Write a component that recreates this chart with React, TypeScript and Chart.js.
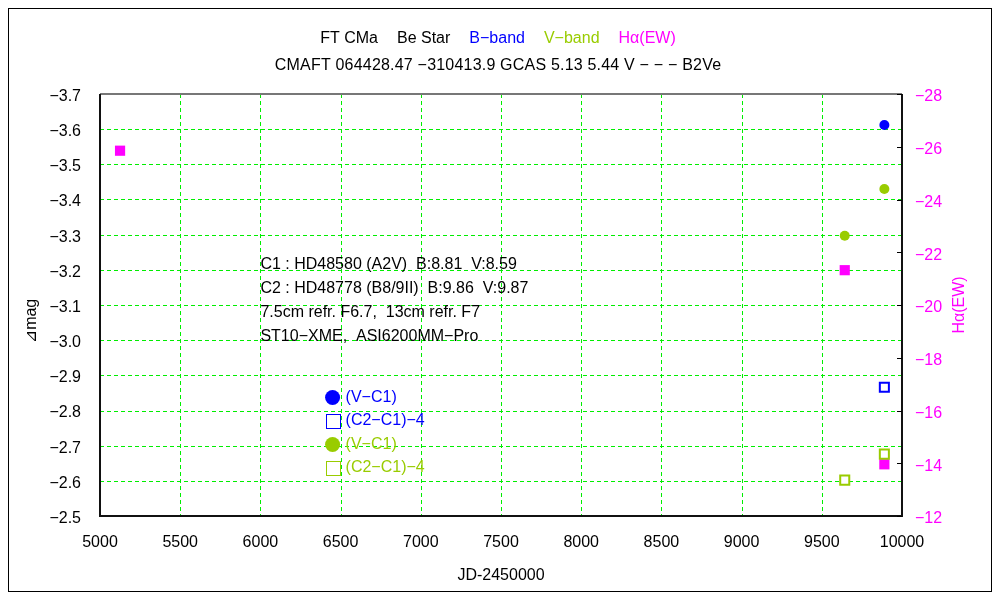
import React, { useEffect, useRef } from "react";
import { Chart, registerables } from "chart.js";

Chart.register(...registerables);

const FONT = "'Liberation Sans', 'DejaVu Sans', sans-serif";
const BLUE = "#0000ff";
const GREEN = "#99cc00";
const MAGENTA = "#ff00ff";
const GRID = "#00ee00";

// B-band
const bJD = [9890];
const bVC1 = [-3.612];
const bC2C1 = [-2.866];
// V-band
const vJD = [9643, 9890];
const vVC1 = [-3.297, -3.43];
const vC2C1 = [-2.602, -2.676];
// H-alpha equivalent width
const haJD = [5125, 9643, 9890];
const haEW = [-25.85, -21.32, -13.96];

const titleSegments = [
  { text: "FT CMa", color: "#000000" },
  { text: "Be Star", color: "#000000" },
  { text: "B−band", color: BLUE },
  { text: "V−band", color: GREEN },
  { text: "Hα(EW)", color: MAGENTA },
];
const subtitle = "CMAFT 064428.47 −310413.9 GCAS 5.13 5.44 V − − − B2Ve";
const notes = [
  "C1 : HD48580 (A2V)  B:8.81  V:8.59",
  "C2 : HD48778 (B8/9II)  B:9.86  V:9.87",
  "7.5cm refr. F6.7,  13cm refr. F7",
  "ST10−XME,  ASI6200MM−Pro",
];
const legendItems = [
  { label: "(V−C1)", color: BLUE, filled: true },
  { label: "(C2−C1)−4", color: BLUE, filled: false },
  { label: "(V−C1)", color: GREEN, filled: true },
  { label: "(C2−C1)−4", color: GREEN, filled: false },
];
const leftTitle = "⊿mag";
const rightTitle = "Hα(EW)";
const xTitle = "JD-2450000";

const pts = (xs: number[], ys: number[]) => xs.map((x, i) => ({ x, y: ys[i] }));
const minusFmt = (v: any) => String(v).replace("-", "−");

const decor = {
  id: "decor",
  beforeDraw(chart: any) {
    const ctx = chart.ctx;
    ctx.save();
    ctx.fillStyle = "#ffffff";
    ctx.fillRect(0, 0, chart.width, chart.height);
    ctx.restore();
  },
  beforeDatasetsDraw(chart: any) {
    const ctx = chart.ctx;
    const ca = chart.chartArea;
    const xs = chart.scales.x;
    const ys = chart.scales.y;
    ctx.save();
    ctx.strokeStyle = GRID;
    ctx.lineWidth = 1;
    ctx.setLineDash([4, 3]);
    xs.ticks.forEach((t: any) => {
      const px = Math.round(xs.getPixelForValue(t.value)) + 0.5;
      if (px <= ca.left + 2 || px >= ca.right - 2) return;
      ctx.beginPath();
      ctx.moveTo(px, ca.top);
      ctx.lineTo(px, ca.bottom);
      ctx.stroke();
    });
    ys.ticks.forEach((t: any) => {
      const py = Math.round(ys.getPixelForValue(t.value)) + 0.5;
      if (py <= ca.top + 2 || py >= ca.bottom - 2) return;
      ctx.beginPath();
      ctx.moveTo(ca.left, py);
      ctx.lineTo(ca.right, py);
      ctx.stroke();
    });
    ctx.restore();
  },
  afterDraw(chart: any) {
    const ctx = chart.ctx;
    const ca = chart.chartArea;
    const xs = chart.scales.x;
    const y2 = chart.scales.y2;
    ctx.save();
    // outer border
    ctx.strokeStyle = "#000000";
    ctx.lineWidth = 1;
    ctx.strokeRect(0.5, 0.5, chart.width - 1, chart.height - 1);

    // plot frame
    ctx.lineWidth = 2;
    ctx.strokeStyle = "#777777";
    ctx.beginPath();
    ctx.moveTo(ca.left, ca.top);
    ctx.lineTo(ca.right, ca.top);
    ctx.stroke();
    ctx.strokeStyle = "#111111";
    ctx.beginPath();
    ctx.moveTo(ca.left, ca.top);
    ctx.lineTo(ca.left, ca.bottom);
    ctx.lineTo(ca.right, ca.bottom);
    ctx.lineTo(ca.right, ca.top);
    ctx.stroke();

    // right axis inward ticks
    ctx.lineWidth = 1;
    ctx.strokeStyle = "#000000";
    y2.ticks.forEach((t: any) => {
      const py = Math.round(y2.getPixelForValue(t.value)) + 0.5;
      ctx.beginPath();
      ctx.moveTo(ca.right - 5, py);
      ctx.lineTo(ca.right, py);
      ctx.stroke();
    });

    // titles
    ctx.font = "16px " + FONT;
    ctx.textBaseline = "middle";
    const gap = 19;
    const widths = titleSegments.map((s) => ctx.measureText(s.text).width);
    const total = widths.reduce((a, b) => a + b, 0) + gap * (titleSegments.length - 1);
    let tx = chart.width / 2 - total / 2 - 2;
    ctx.textAlign = "left";
    titleSegments.forEach((s, i) => {
      ctx.fillStyle = s.color;
      ctx.fillText(s.text, tx, 31);
      tx += widths[i] + gap;
    });
    ctx.fillStyle = "#000000";
    ctx.textAlign = "center";
    (ctx as any).letterSpacing = "0.2px";
    ctx.fillText(subtitle, chart.width / 2 - 2, 58);
    (ctx as any).letterSpacing = "0px";

    // notes
    ctx.textAlign = "left";
    const nx = xs.getPixelForValue(6000);
    notes.forEach((n, i) => {
      ctx.fillText(n, nx, 257 + i * 23.7);
    });

    // legend
    const lx = xs.getPixelForValue(6450);
    legendItems.forEach((it, i) => {
      const ly = 389.5 + i * 23.5;
      if (it.filled) {
        ctx.fillStyle = it.color;
        ctx.beginPath();
        ctx.arc(lx, ly, 7.5, 0, Math.PI * 2);
        ctx.fill();
      } else {
        ctx.strokeStyle = it.color;
        ctx.lineWidth = 1;
        ctx.strokeRect(Math.round(lx - 7) + 0.5, Math.round(ly - 7) + 0.5, 14, 14);
      }
      ctx.fillStyle = it.color;
      ctx.fillText(it.label, lx + 13, ly);
    });

    // axis titles
    ctx.fillStyle = "#000000";
    ctx.textAlign = "center";
    ctx.fillText(xTitle, (ca.left + ca.right) / 2, 568);

    ctx.save();
    ctx.translate(24, 313);
    ctx.rotate(-Math.PI / 2);
    ctx.fillText(leftTitle, 0, 0);
    ctx.restore();

    ctx.save();
    ctx.translate(952, 297);
    ctx.rotate(-Math.PI / 2);
    ctx.fillStyle = MAGENTA;
    ctx.fillText(rightTitle, 0, 0);
    ctx.restore();

    ctx.restore();
  },
};

export default function App() {
  const ref = useRef<HTMLCanvasElement | null>(null);
  useEffect(() => {
    if (!ref.current) return;
    const tickFont = { family: FONT, size: 16 };
    const chart = new Chart(ref.current, {
      type: "scatter",
      data: {
        datasets: [
          {
            label: "B (V-C1)",
            data: pts(bJD, bVC1),
            yAxisID: "y",
            pointStyle: "circle",
            pointRadius: 5,
            backgroundColor: BLUE,
            borderColor: BLUE,
            borderWidth: 0,
          },
          {
            label: "B (C2-C1)-4",
            data: pts(bJD, bC2C1),
            yAxisID: "y",
            pointStyle: "rect",
            pointRadius: 6.4,
            backgroundColor: "rgba(255,255,255,1)",
            borderColor: BLUE,
            borderWidth: 2,
          },
          {
            label: "V (V-C1)",
            data: pts(vJD, vVC1),
            yAxisID: "y",
            pointStyle: "circle",
            pointRadius: 5,
            backgroundColor: GREEN,
            borderColor: GREEN,
            borderWidth: 0,
          },
          {
            label: "V (C2-C1)-4",
            data: pts(vJD, vC2C1),
            yAxisID: "y",
            pointStyle: "rect",
            pointRadius: 6.4,
            backgroundColor: "rgba(255,255,255,1)",
            borderColor: GREEN,
            borderWidth: 2,
          },
          {
            label: "Hα(EW)",
            data: pts(haJD, haEW),
            yAxisID: "y2",
            pointStyle: "rect",
            pointRadius: 7.2,
            backgroundColor: MAGENTA,
            borderColor: MAGENTA,
            borderWidth: 0,
          },
        ],
      },
      options: {
        responsive: false,
        animation: false,
        events: [],
        layout: { padding: { left: 0, right: 0, top: 86, bottom: 0 } },
        plugins: { legend: { display: false }, tooltip: { enabled: false }, title: { display: false } },
        scales: {
          x: {
            type: "linear",
            min: 5000,
            max: 10000,
            position: "bottom",
            afterFit: (s: any) => {
              s.height = 76;
            },
            ticks: {
              stepSize: 500,
              color: "#000",
              font: tickFont,
              padding: 17,
              maxRotation: 0,
              callback: (v: any) => String(v),
            },
            grid: { display: false, drawTicks: false },
            border: { display: false },
          },
          y: {
            type: "linear",
            position: "left",
            reverse: true,
            min: -3.7,
            max: -2.5,
            afterFit: (s: any) => {
              s.width = 92;
            },
            ticks: {
              stepSize: 0.1,
              color: "#000",
              font: tickFont,
              padding: 19,
              labelOffset: 2.5,
              callback: (v: any) => minusFmt(Number(v).toFixed(1)),
            },
            grid: { display: false, drawTicks: false },
            border: { display: false },
          },
          y2: {
            type: "linear",
            position: "right",
            reverse: true,
            min: -28,
            max: -12,
            afterFit: (s: any) => {
              s.width = 90;
            },
            ticks: {
              stepSize: 2,
              color: MAGENTA,
              font: tickFont,
              padding: 13,
              labelOffset: 3,
              callback: (v: any) => minusFmt(v),
            },
            grid: { display: false, drawOnChartArea: false, drawTicks: false },
            border: { display: false },
          },
        },
      },
      plugins: [decor],
    } as any);
    return () => chart.destroy();
  }, []);
  return (
    <div style={{ width: 984, height: 584 }}>
      <canvas ref={ref} width={984} height={584} style={{ display: "block", width: 984, height: 584 }} />
    </div>
  );
}
